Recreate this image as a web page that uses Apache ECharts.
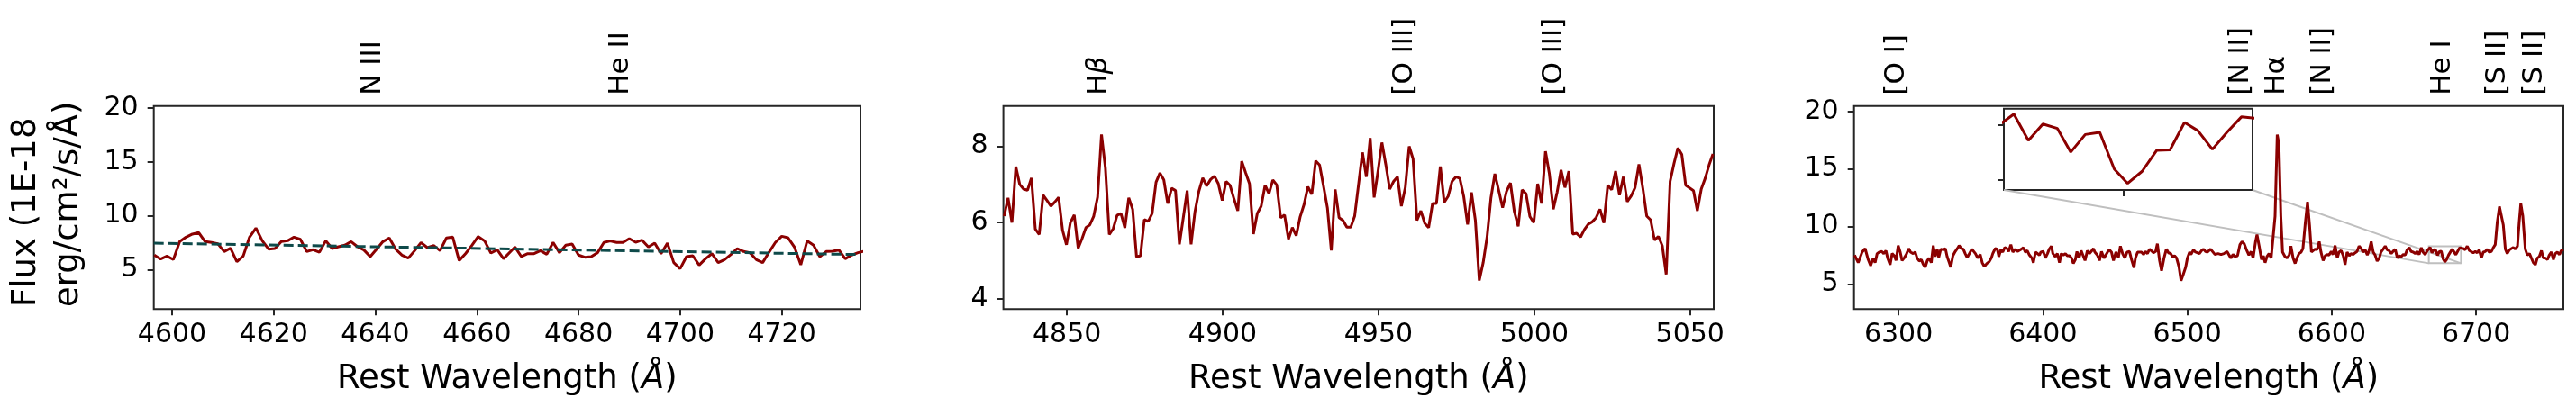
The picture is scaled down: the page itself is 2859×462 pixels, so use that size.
<!DOCTYPE html>
<html>
<head>
<meta charset="utf-8">
<script src="https://cdn.jsdelivr.net/npm/echarts@6/dist/echarts.min.js"></script>
<style>
html, body { margin: 0; padding: 0; background: #fff; }
#chart { width: 2859px; height: 462px; }
</style>
</head>
<body>
<div id="chart"></div>
<script>
// ---- data ----
const step = 1.25; // spectral sampling (A)

// panel 1: N III / He II region, two runs of samples
const wl1aStart = 4596.5;
const flux1a = [
  6.34, 5.97, 6.25, 5.92, 7.59, 8.01, 8.29, 8.43, 7.59, 7.51,
  7.40, 6.67, 6.98, 5.72, 6.25, 8.01, 8.85, 7.67, 6.89, 6.95,
  7.59, 7.67, 8.01, 7.81, 6.67, 6.84, 6.61, 7.67, 6.95, 7.12,
  7.26, 7.59, 7.12, 6.81, 6.20, 6.89, 7.59, 7.93, 6.89, 6.34,
  6.06, 6.75, 7.51, 7.03, 7.23, 6.75, 7.93, 8.01, 5.83, 6.47,
  7.23, 8.06, 7.67, 6.53, 6.84, 6.00
];
const wl1bStart = 4667.5;
const flux1b = [
  7.09, 6.20, 6.47, 6.47, 6.75, 6.42, 7.51, 6.56, 7.26, 7.37,
  6.34, 6.14, 6.20, 6.56, 7.51, 7.65, 7.51, 7.51, 7.87, 7.53,
  7.73, 7.09, 7.45, 6.47, 7.45, 5.64, 5.08, 6.20, 6.28, 5.41,
  6.00, 6.47, 5.64, 5.92, 6.39, 6.95, 6.67, 6.56, 5.92, 5.64,
  6.61, 7.51, 8.09, 7.95, 7.09, 5.44, 7.65, 7.26, 6.20, 6.67,
  6.70, 6.81, 6.00, 6.34, 6.56, 6.70
];
const contWl1 = [4596.4, 4735.5];
const contFlux1 = [7.45, 6.39];

// panel 2: H-beta / [O III] region
const wl2Start = 4829.85;
const flux2 = [
  6.17, 6.65, 6.00, 7.47, 7.00, 6.88, 6.85, 7.17, 5.83, 5.69,
  6.72, 6.58, 6.43, 6.54, 6.66, 5.80, 5.42, 6.00, 6.20, 5.33,
  5.58, 5.87, 5.94, 6.17, 6.67, 8.31, 7.43, 5.69, 5.84, 6.19,
  6.24, 5.86, 6.65, 6.35, 5.10, 5.13, 6.08, 6.03, 6.24, 7.06,
  7.30, 7.12, 6.50, 6.90, 6.84, 5.43, 6.13, 6.84, 5.43, 6.29,
  6.82, 7.17, 6.96, 7.13, 7.22, 7.02, 6.58, 7.08, 6.98, 6.63,
  6.31, 7.61, 7.31, 7.02, 5.70, 6.24, 6.43, 6.98, 6.76, 7.12,
  6.99, 6.13, 6.20, 5.57, 5.87, 5.66, 6.15, 6.47, 6.94, 6.74,
  7.62, 7.51, 6.96, 6.39, 5.27, 6.87, 6.13, 6.06, 5.88, 5.88,
  6.17, 7.00, 7.84, 7.20, 8.22, 6.66, 7.35, 8.10, 7.52, 6.88,
  7.08, 7.20, 6.43, 6.92, 8.00, 7.67, 6.06, 6.31, 5.98, 5.87,
  6.50, 6.50, 7.47, 6.53, 6.69, 7.08, 7.20, 7.16, 6.69, 5.95,
  6.79, 6.06, 4.48, 4.95, 5.62, 6.65, 7.28, 6.84, 6.39, 6.82,
  7.04, 6.29, 5.90, 6.86, 6.76, 6.16, 6.00, 7.02, 6.50, 7.87,
  7.28, 6.35, 6.80, 7.38, 6.92, 7.35, 5.70, 5.72, 5.62, 5.82,
  5.96, 6.02, 6.13, 6.35, 5.99, 6.98, 6.86, 7.35, 6.72, 7.20,
  6.55, 6.70, 6.92, 7.53, 6.90, 6.17, 6.07, 5.54, 5.64, 5.39,
  4.64, 7.08, 7.55, 7.96, 7.79, 6.98, 6.91, 6.84, 6.31, 6.88,
  7.16, 7.51, 7.80
];

// panel 3: [O I] .. [S II] region (vertices as seen)
const wl3 = [
  6269.6, 6272.1, 6274.8, 6276.9, 6279.0, 6280.7, 6282.5, 6283.8, 6285.2, 6286.7,
  6288.4, 6289.8, 6291.3, 6292.5, 6294.2, 6295.6, 6297.1, 6298.3, 6299.8, 6301.2,
  6302.5, 6303.9, 6305.4, 6307.1, 6308.3, 6310.2, 6311.6, 6312.9, 6314.4, 6315.8,
  6317.1, 6318.5, 6320.0, 6321.2, 6322.7, 6324.1, 6325.4, 6326.8, 6327.9, 6329.3,
  6331.0, 6332.5, 6333.7, 6335.2, 6336.2, 6337.7, 6339.3, 6340.8, 6342.0, 6343.5,
  6344.9, 6346.2, 6347.6, 6349.1, 6350.8, 6351.8, 6353.3, 6354.9, 6356.6, 6358.0,
  6359.5, 6361.2, 6362.8, 6364.3, 6365.3, 6367.0, 6368.4, 6369.5, 6370.9, 6372.2,
  6373.6, 6375.1, 6376.3, 6377.8, 6379.2, 6380.9, 6382.4, 6383.6, 6385.1, 6386.5,
  6387.8, 6389.2, 6390.7, 6392.4, 6393.4, 6394.9, 6396.1, 6397.6, 6398.6, 6400.3,
  6401.7, 6403.2, 6404.4, 6405.9, 6406.9, 6408.6, 6410.0, 6411.5, 6412.7, 6414.2,
  6415.6, 6416.9, 6418.4, 6419.8, 6421.1, 6422.5, 6423.6, 6425.0, 6426.5, 6427.7,
  6429.2, 6430.8, 6432.3, 6433.5, 6435.0, 6436.0, 6437.7, 6439.2, 6440.6, 6442.3,
  6443.3, 6444.8, 6446.0, 6447.5, 6448.9, 6450.6, 6452.3, 6453.7, 6455.2, 6456.8,
  6458.3, 6460.0, 6461.4, 6463.1, 6464.1, 6465.6, 6466.8, 6468.3, 6469.7, 6471.0,
  6472.4, 6473.9, 6474.9, 6476.6, 6478.1, 6479.3, 6480.8, 6482.2, 6483.9, 6485.5,
  6487.0, 6488.5, 6489.7, 6491.2, 6492.6, 6494.3, 6495.7, 6497.2, 6498.9, 6500.1,
  6501.6, 6502.6, 6504.3, 6505.7, 6506.8, 6508.4, 6509.9, 6511.3, 6512.6, 6514.0,
  6516.1, 6519.2, 6521.3, 6523.4, 6525.4, 6527.5, 6528.6, 6530.2, 6531.7, 6533.1,
  6534.8, 6536.5, 6537.9, 6539.4, 6541.0, 6542.7, 6544.2, 6545.6, 6547.3, 6548.3,
  6549.8, 6551.4, 6552.7, 6553.9, 6555.2, 6556.6, 6558.1, 6559.3, 6560.8, 6562.3,
  6563.5, 6564.8, 6566.0, 6567.7, 6569.1, 6570.6, 6571.8, 6573.3, 6574.7, 6576.0,
  6577.4, 6578.9, 6580.1, 6581.6, 6583.3, 6584.7, 6586.0, 6587.2, 6588.5, 6589.9,
  6591.4, 6592.6, 6594.1, 6595.5, 6596.8, 6598.2, 6599.7, 6600.9, 6602.4, 6603.9,
  6605.1, 6606.6, 6608.0, 6609.3, 6610.7, 6612.2, 6613.4, 6614.9, 6616.3, 6617.6,
  6619.0, 6620.5, 6621.7, 6623.2, 6624.7, 6625.9, 6627.4, 6628.8, 6630.1, 6631.5,
  6633.0, 6634.2, 6635.7, 6637.1, 6638.4, 6639.8, 6641.3, 6642.5, 6644.0, 6645.5,
  6646.7, 6648.2, 6649.6, 6650.9, 6652.3, 6653.8, 6655.0, 6656.5, 6657.9, 6659.2,
  6660.6, 6662.1, 6663.3, 6664.8, 6666.3, 6668.2, 6669.5, 6670.8, 6672.1, 6673.3,
  6674.6, 6675.9, 6677.2, 6678.4, 6679.7, 6681.0, 6682.2, 6683.5, 6684.7, 6686.0,
  6687.3, 6688.6, 6691.2, 6692.5, 6693.9, 6695.4, 6696.6, 6698.1, 6699.5, 6700.8,
  6702.2, 6703.7, 6705.0, 6706.4, 6707.9, 6709.1, 6710.6, 6712.0, 6713.3, 6714.7,
  6716.2, 6717.4, 6718.9, 6720.3, 6721.6, 6723.1, 6724.5, 6725.8, 6727.2, 6728.7,
  6729.9, 6731.0, 6732.4, 6734.1, 6735.5, 6737.0, 6738.2, 6739.7, 6741.1, 6742.4,
  6743.8, 6745.3, 6746.6, 6748.0, 6749.5, 6750.7, 6752.2, 6753.6, 6754.9, 6756.3,
  6757.8, 6759.0, 6760.5
];
const flux3 = [
  7.53, 6.87, 7.79, 8.10, 7.14, 6.61, 7.27, 6.87, 7.66, 7.79,
  7.84, 7.66, 7.92, 7.27, 6.69, 7.66, 7.47, 7.06, 8.36, 7.79,
  7.06, 7.27, 7.58, 8.10, 7.79, 7.66, 7.79, 7.27, 7.01, 7.14,
  6.74, 6.48, 7.06, 7.27, 6.87, 8.36, 7.40, 8.05, 7.32, 8.05,
  7.99, 8.10, 7.40, 6.87, 6.48, 7.47, 7.84, 8.10, 8.36, 8.10,
  8.05, 7.66, 7.32, 7.66, 8.05, 8.18, 7.66, 7.27, 7.58, 6.87,
  6.54, 6.80, 6.95, 7.27, 7.66, 8.10, 8.05, 7.40, 7.99, 7.79,
  8.18, 8.10, 7.84, 8.44, 7.79, 8.05, 7.84, 7.79, 8.05, 8.18,
  7.79, 7.92, 7.53, 7.27, 6.87, 7.79, 7.92, 7.53, 7.79, 7.84,
  7.27, 7.66, 8.05, 8.31, 7.66, 7.40, 7.66, 6.87, 7.66, 7.53,
  7.66, 7.47, 7.47, 7.27, 6.80, 7.14, 7.84, 7.27, 7.92, 7.99,
  7.06, 7.92, 7.66, 7.84, 8.10, 7.79, 7.53, 7.06, 7.84, 7.27,
  7.27, 7.79, 7.99, 7.79, 7.06, 7.79, 7.32, 8.31, 7.66, 7.27,
  7.79, 7.84, 7.14, 6.43, 7.27, 7.79, 7.92, 7.79, 7.58, 7.84,
  7.66, 8.05, 8.10, 7.73, 7.84, 8.52, 7.06, 6.17, 7.27, 8.05,
  7.73, 7.66, 7.40, 7.47, 7.27, 6.48, 5.31, 5.83, 6.48, 7.27,
  7.79, 7.58, 7.99, 7.79, 7.92, 7.66, 7.92, 8.05, 7.84, 7.79,
  8.05, 7.58, 7.66, 7.58, 7.66, 7.84, 7.92, 7.27, 7.58, 7.40,
  7.47, 8.44, 8.70, 8.52, 7.99, 7.53, 7.84, 7.27, 8.70, 9.30,
  8.31, 7.14, 7.47, 6.87, 7.40, 7.66, 7.27, 7.40, 10.91, 17.99,
  17.16, 10.91, 7.79, 7.40, 7.27, 7.53, 8.31, 7.27, 6.80, 7.27,
  7.66, 7.79, 8.10, 10.13, 12.16, 10.13, 7.79, 7.79, 8.05, 7.99,
  8.70, 7.79, 7.06, 7.47, 7.58, 7.53, 7.84, 7.58, 8.36, 7.27,
  7.79, 7.92, 7.47, 6.69, 7.79, 7.47, 7.66, 7.58, 7.73, 7.84,
  8.31, 8.10, 7.79, 7.99, 7.53, 7.92, 8.70, 7.79, 7.53, 7.01,
  7.27, 7.79, 8.05, 8.31, 7.99, 7.92, 7.66, 7.84, 8.05, 7.27,
  7.47, 7.40, 7.58, 7.53, 7.99, 8.18, 7.84, 7.79, 7.66, 7.84,
  7.58, 8.18, 7.79, 7.58, 7.92, 8.20, 7.72, 8.02, 7.94, 7.51,
  7.83, 7.87, 7.20, 6.94, 7.16, 7.54, 7.55, 8.05, 7.90, 7.56,
  7.87, 8.15, 8.10, 7.99, 8.31, 7.92, 7.79, 7.73, 7.84, 7.73,
  7.99, 7.27, 7.79, 7.84, 8.05, 7.79, 7.84, 8.18, 8.44, 10.39,
  11.74, 11.74, 10.13, 8.05, 7.66, 7.99, 8.10, 8.18, 8.05, 8.31,
  10.39, 12.00, 10.91, 8.05, 7.53, 7.66, 7.79, 6.87, 6.69, 7.27,
  7.40, 7.92, 7.27, 7.27, 7.14, 7.53, 7.79, 7.14, 7.66, 7.79,
  7.58, 7.92, 7.99
];

// zoomed window (inset) limits
const insetX = [6667.3, 6689.6];
const insetY = [6.82, 8.30];

// axis ranges and ticks
const xRange = [[4596.4, 4735.5], [4829.6, 5057.6], [6269.2, 6760.5]];
const yRange = [[1.32, 20.19], [3.73, 9.06], [2.84, 20.47]];
const xTicks = [
  [4600, 4620, 4640, 4660, 4680, 4700, 4720],
  [4850, 4900, 4950, 5000, 5050],
  [6300, 6400, 6500, 6600, 6700]
];
const yTicks = [[5, 10, 15, 20], [4, 6, 8], [5, 10, 15, 20]];
const insetXTicks = [6678];
const insetYTicks = [7, 8];

// emission line labels above each panel
const lineNames = [
  ['N III', 'He II'],
  ['Hβ', '[O III]', '[O III]'],
  ['[O I]', '[N II]', 'Hα', '[N II]', 'He I', '[S II]', '[S II]']
];
const lineWls = [
  [4639.6, 4688.4],
  [4860.3, 4958.4, 5006.4],
  [6298.7, 6537.2, 6562.3, 6593.7, 6676.8, 6714.7, 6740.7]
];

// ---- chart ----
const FONT = 'DejaVu Sans';
const frame = '#262626';
const red = '#8b0000';

const p1 = flux1a.map((f, i) => [wl1aStart + i * step, f])
  .concat(flux1b.map((f, i) => [wl1bStart + i * step, f]));
const p2 = flux2.map((f, i) => [wl2Start + i * step, f]);
const p3 = wl3.map((w, i) => [w, flux3[i]]);
const cont1 = contWl1.map((w, i) => [w, contFlux1[i]]);

const grids = [
  { left: 170.7, top: 117.7, width: 784.3, height: 225.6 },
  { left: 1113.6, top: 117.7, width: 788.4, height: 225.6 },
  { left: 2057.7, top: 117.7, width: 787.3, height: 225.6 },
  { left: 2224, top: 120.7, width: 276, height: 90.3 }
].map(g => Object.assign({ show: true, borderColor: frame, borderWidth: 2, backgroundColor: '#fff' }, g));

const tickStyle = { color: frame, width: 2 };
const plain = v => String(v);

const xAxes = [0, 1, 2].map(i => ({
  type: 'value', gridIndex: i, position: 'bottom',
  min: xRange[i][0], max: xRange[i][1],
  axisLine: { show: false }, splitLine: { show: false },
  axisTick: { customValues: xTicks[i], length: 7, lineStyle: tickStyle },
  axisLabel: { customValues: xTicks[i], formatter: plain, fontSize: 30, color: '#000', fontFamily: FONT, margin: 14 },
  name: 'Rest Wavelength ({i|Å})', nameLocation: 'middle', nameGap: 60,
  nameTextStyle: {
    fontSize: 37, color: '#000', fontFamily: FONT,
    rich: { i: { fontSize: 37, fontStyle: 'italic', fontFamily: FONT, color: '#000' } }
  }
}));
xAxes.push({
  type: 'value', gridIndex: 3, position: 'bottom', min: insetX[0], max: insetX[1],
  axisLine: { show: false }, splitLine: { show: false },
  axisTick: { customValues: insetXTicks, length: 7, lineStyle: tickStyle },
  axisLabel: { show: false }
});

const yAxes = [0, 1, 2].map(i => ({
  type: 'value', gridIndex: i, min: yRange[i][0], max: yRange[i][1],
  axisLine: { show: false }, splitLine: { show: false },
  axisTick: { customValues: yTicks[i], length: 7, lineStyle: tickStyle },
  axisLabel: { customValues: yTicks[i], formatter: plain, fontSize: 30, color: '#000', fontFamily: FONT, margin: 17 }
}));
yAxes.push({
  type: 'value', gridIndex: 3, min: insetY[0], max: insetY[1],
  axisLine: { show: false }, splitLine: { show: false },
  axisTick: { customValues: insetYTicks, length: 7, lineStyle: tickStyle },
  axisLabel: { show: false }
});

const spec = (xi, yi, data) => ({
  type: 'line', xAxisIndex: xi, yAxisIndex: yi, data: data,
  showSymbol: false, silent: true,
  lineStyle: { color: red, width: 3 }
});

const s3 = spec(2, 2, p3);
s3.markArea = {
  silent: true,
  itemStyle: { color: 'rgba(0,0,0,0)', borderColor: '#bfbfbf', borderWidth: 2 },
  data: [[{ coord: [insetX[0], insetY[0]] }, { coord: [insetX[1], insetY[1]] }]]
};

const chart = echarts.init(document.getElementById('chart'));
chart.setOption({
  animation: false,
  backgroundColor: '#fff',
  textStyle: { fontFamily: FONT },
  grid: grids,
  xAxis: xAxes,
  yAxis: yAxes,
  series: [
    spec(0, 0, p1),
    {
      type: 'line', xAxisIndex: 0, yAxisIndex: 0, data: cont1, z: 3,
      showSymbol: false, silent: true,
      lineStyle: { color: '#0e4a4a', width: 3, type: [11, 5] }
    },
    spec(1, 1, p2),
    s3,
    spec(3, 3, p3)
  ]
});

// rotated labels: text runs upward from its anchor
const upText = (x, y, text, size, extra) => ({
  type: 'text', x: x, y: y, rotation: Math.PI / 2, silent: true,
  style: Object.assign({
    text: text, fontSize: size, fontFamily: FONT, fill: '#000',
    align: 'left', verticalAlign: 'middle'
  }, extra || {})
});

const graphics = [];
graphics.push(upText(6, 341, 'Flux (1E-18\nerg/cm²/s/Å)', 37, { verticalAlign: 'top', lineHeight: 47 }));

// emission-line names, placed through each panel's x scale
lineWls.forEach((wls, i) => {
  wls.forEach((w, k) => {
    const p = chart.convertToPixel({ xAxisIndex: i, yAxisIndex: i }, [w, yRange[i][1]]);
    const name = lineNames[i][k].replace('β', '{i|β}');
    graphics.push(upText(p[0], p[1] - 12, name, 31, {
      rich: { i: { fontSize: 31, fontStyle: 'italic', fontFamily: FONT, fill: '#000' } }
    }));
  });
});

// connector lines from inset corners to the zoomed window
const inLL = chart.convertToPixel({ xAxisIndex: 3, yAxisIndex: 3 }, [insetX[0], insetY[0]]);
const inLR = chart.convertToPixel({ xAxisIndex: 3, yAxisIndex: 3 }, [insetX[1], insetY[0]]);
const rLL = chart.convertToPixel({ xAxisIndex: 2, yAxisIndex: 2 }, [insetX[0], insetY[0]]);
const rLR = chart.convertToPixel({ xAxisIndex: 2, yAxisIndex: 2 }, [insetX[1], insetY[0]]);
[[inLL, rLL], [inLR, rLR]].forEach(([a, b]) => {
  graphics.push({
    type: 'line', z: 1, silent: true,
    shape: { x1: a[0], y1: a[1], x2: b[0], y2: b[1] },
    style: { stroke: '#bfbfbf', lineWidth: 2 }
  });
});

chart.setOption({ graphic: graphics });
</script>
</body>
</html>
